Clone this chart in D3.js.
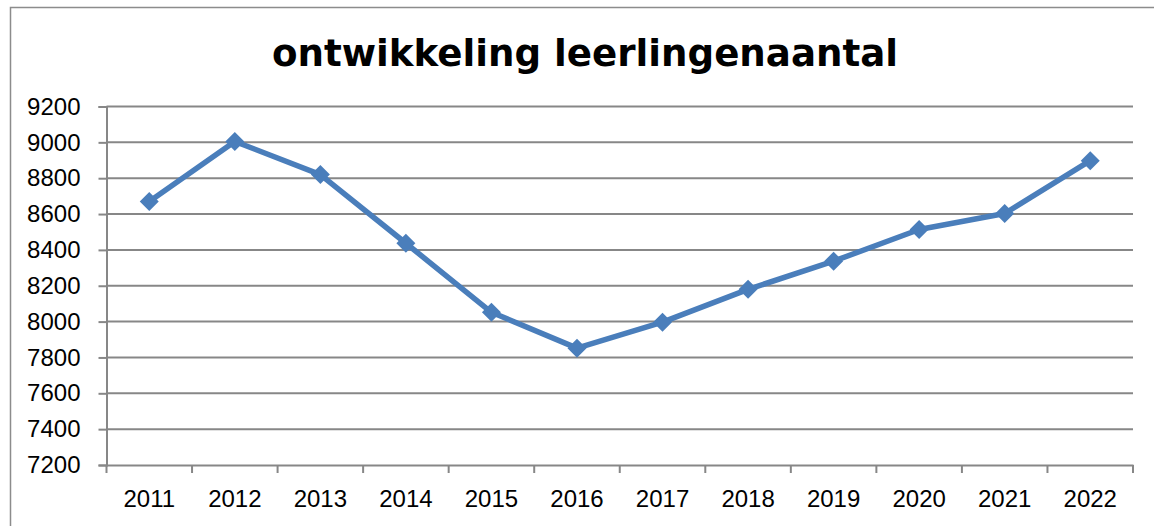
<!DOCTYPE html>
<html>
<head>
<meta charset="utf-8">
<script src="https://cdn.jsdelivr.net/npm/d3@7"></script>
<style>
  html, body { margin: 0; padding: 0; background: #fff; }
  svg { display: block; }
</style>
</head>
<body>
<svg id="chart" width="1154" height="526"></svg>
<script>
const title = "ontwikkeling leerlingenaantal";
const years = ["2011","2012","2013","2014","2015","2016","2017","2018","2019","2020","2021","2022"];
const values = [8670, 9005, 8820, 8437, 8052, 7852, 7997, 8180, 8337, 8514, 8603, 8898];
const yTicks = [7200, 7400, 7600, 7800, 8000, 8200, 8400, 8600, 8800, 9000, 9200];

const svg = d3.select("#chart");
const margin = { left: 106.5, right: 1133, top: 106.5, bottom: 465 };

// outer chart border
svg.append("rect").attr("x", 10.5).attr("y", 7.5).attr("width", 1170).attr("height", 540)
  .attr("fill", "#fff").attr("stroke", "#8c8c8c").attr("stroke-width", 1.5);

const x = d3.scaleBand().domain(years).range([margin.left, margin.right]).paddingInner(0).paddingOuter(0);
const y = d3.scaleLinear().domain([7200, 9200]).range([margin.bottom, margin.top]);

const gridColor = "#878787";
const font = "'Liberation Sans', Arial, sans-serif";

// gridlines
svg.append("g").selectAll("line").data(yTicks.filter(d => d !== 7200)).join("line")
  .attr("x1", margin.left).attr("x2", margin.right)
  .attr("y1", d => y(d)).attr("y2", d => y(d))
  .attr("stroke", gridColor).attr("stroke-width", 2);

// y axis
const yAxis = d3.axisLeft(y).tickValues(yTicks).tickSize(8).tickPadding(18).tickFormat(d3.format("d"));
const gy = svg.append("g").attr("transform", `translate(${margin.left},0)`).call(yAxis);
gy.select(".domain").attr("stroke", gridColor).attr("stroke-width", 2);
gy.selectAll(".tick line").attr("stroke", gridColor).attr("stroke-width", 2);
gy.selectAll(".tick text").attr("font-family", font).attr("font-size", 24).attr("fill", "#000");

// x axis
const xAxis = d3.axisBottom(x).tickSize(0).tickPadding(25);
const gx = svg.append("g").attr("transform", `translate(0,${margin.bottom})`).call(xAxis);
gx.select(".domain").attr("stroke", gridColor).attr("stroke-width", 2);
gx.selectAll(".tick text").attr("font-family", font).attr("font-size", 24).attr("fill", "#000");
// category boundary ticks
const bounds = years.map(d => x(d)).concat([x(years[years.length - 1]) + x.bandwidth()]);
svg.append("g").selectAll("line").data(bounds).join("line")
  .attr("x1", d => d).attr("x2", d => d)
  .attr("y1", margin.bottom).attr("y2", margin.bottom + 8)
  .attr("stroke", gridColor).attr("stroke-width", 2);

// line
const cx = d => x(d) + x.bandwidth() / 2;
const lineColor = "#4a7ebb";
const line = d3.line().x((d, i) => cx(years[i])).y(d => y(d));
svg.append("path").datum(values).attr("d", line)
  .attr("fill", "none").attr("stroke", lineColor).attr("stroke-width", 5.5).attr("stroke-linejoin", "round");

// diamond markers
const s = 9.5;
svg.append("g").selectAll("path").data(values).join("path")
  .attr("transform", (d, i) => `translate(${cx(years[i])},${y(d)})`)
  .attr("d", `M0,${-s}L${s},0L0,${s}L${-s},0Z`)
  .attr("fill", lineColor);

// title
svg.append("text").attr("x", 585).attr("y", 66).attr("text-anchor", "middle")
  .attr("font-family", "'DejaVu Sans', Verdana, sans-serif").attr("font-weight", "bold")
  .attr("font-size", 37.2).attr("fill", "#000").text(title);
</script>
</body>
</html>
